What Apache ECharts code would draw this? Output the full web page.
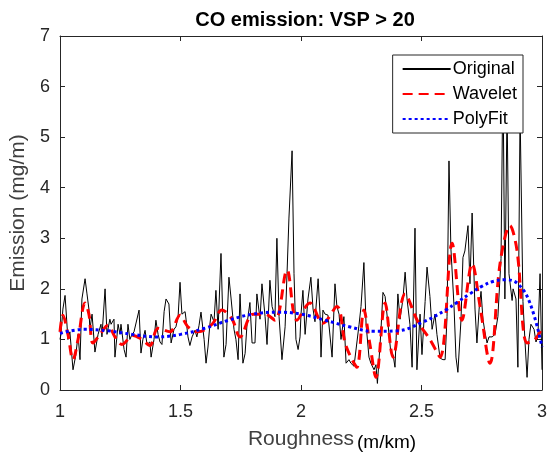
<!DOCTYPE html>
<html>
<head>
<meta charset="utf-8">
<script src="https://cdn.jsdelivr.net/npm/echarts@6/dist/echarts.min.js"></script>
<style>html,body{margin:0;padding:0;background:#fff;}#c{width:555px;height:459px;}</style>
</head>
<body>
<div id="c"></div>
<script>
var titleText = 'CO emission: VSP > 20';
var xName = 'Roughness';
var xUnit = '(m/km)';
var yName = 'Emission (mg/m)';
var xTicks = [1, 1.5, 2, 2.5, 3];
var yTicks = [0, 1, 2, 3, 4, 5, 6, 7];

var origX = [1.000,1.004,1.012,1.021,1.033,1.041,1.054,1.066,1.075,1.083,1.091,1.104,1.112,1.120,1.124,1.133,1.145,1.158,1.170,1.174,1.187,1.195,1.207,1.212,1.224,1.228,1.241,1.249,1.253,1.266,1.274,1.282,1.290,1.299,1.307,1.315,1.328,1.336,1.344,1.353,1.361,1.373,1.378,1.390,1.398,1.407,1.415,1.423,1.432,1.440,1.452,1.461,1.473,1.481,1.490,1.498,1.506,1.519,1.523,1.531,1.539,1.548,1.560,1.568,1.577,1.585,1.598,1.606,1.614,1.622,1.627,1.639,1.647,1.656,1.668,1.680,1.689,1.701,1.710,1.722,1.730,1.739,1.747,1.759,1.768,1.776,1.788,1.797,1.809,1.817,1.830,1.838,1.851,1.859,1.871,1.880,1.892,1.900,1.909,1.921,1.934,1.942,1.950,1.963,1.971,1.979,1.988,1.996,2.000,2.008,2.017,2.029,2.041,2.050,2.058,2.071,2.079,2.083,2.091,2.100,2.112,2.120,2.129,2.141,2.149,2.158,2.166,2.178,2.187,2.199,2.207,2.220,2.228,2.241,2.249,2.261,2.270,2.282,2.290,2.303,2.311,2.317,2.328,2.332,2.340,2.349,2.361,2.373,2.382,2.390,2.402,2.411,2.423,2.432,2.440,2.452,2.461,2.473,2.481,2.494,2.502,2.515,2.523,2.535,2.544,2.556,2.564,2.577,2.589,2.598,2.606,2.614,2.622,2.635,2.643,2.651,2.664,2.672,2.680,2.693,2.701,2.710,2.722,2.730,2.739,2.747,2.755,2.763,2.772,2.780,2.793,2.805,2.817,2.830,2.838,2.846,2.855,2.863,2.876,2.880,2.892,2.900,2.909,2.921,2.929,2.938,2.946,2.954,2.967,2.975,2.983,2.992,3.000];
var origY = [1.0,1.1,1.6,1.87,1.0,1.15,0.4,0.7,1.1,0.6,1.8,2.2,1.9,1.6,1.2,1.5,0.75,1.1,1.3,1.05,2.0,1.1,1.4,1.3,1.4,0.65,1.3,1.1,1.3,0.8,0.65,1.3,1.0,1.1,1.15,1.15,1.58,0.73,1.0,1.18,0.9,0.95,0.65,1.0,1.38,1.1,0.95,0.9,1.55,1.8,1.7,0.93,1.2,1.25,1.45,2.13,1.5,1.55,1.4,1.05,0.88,1.05,1.18,1.05,1.28,1.54,1.0,0.53,0.85,1.3,1.5,1.35,1.97,1.2,2.7,0.65,0.9,2.23,1.8,1.2,1.0,0.6,1.9,0.53,0.72,1.3,1.73,0.93,0.93,1.9,1.4,2.1,1.45,0.9,2.17,1.65,1.45,3.0,1.45,0.6,1.25,2.3,3.4,4.73,2.3,1.0,0.8,1.05,1.5,1.97,1.1,1.8,2.23,1.6,1.35,2.2,1.5,0.65,1.58,1.5,1.48,1.45,0.65,2.1,1.65,1.5,1.0,1.45,0.53,0.6,0.53,0.47,0.45,1.3,1.65,2.52,1.3,0.65,0.53,0.4,0.5,0.13,0.9,1.2,1.93,1.85,1.3,0.73,0.7,0.45,1.9,1.4,1.8,2.33,1.8,1.3,0.45,3.2,0.4,1.5,0.7,1.75,2.43,1.85,1.2,1.5,1.1,0.63,0.6,0.6,1.45,4.53,2.8,1.65,0.65,0.35,1.4,2.62,2.75,3.25,2.1,3.5,1.6,0.93,1.6,1.95,1.4,1.15,0.93,1.05,1.05,1.1,1.45,2.6,6.3,1.8,5.6,2.3,1.77,2.0,1.8,0.45,5.5,1.75,1.0,0.25,1.0,1.3,1.2,0.95,1.05,2.3,0.4];

var waveX = [1.000,1.012,1.033,1.054,1.075,1.104,1.120,1.137,1.166,1.199,1.228,1.257,1.303,1.340,1.373,1.407,1.456,1.498,1.531,1.573,1.631,1.672,1.714,1.747,1.801,1.851,1.892,1.942,1.983,2.037,2.091,2.149,2.183,2.212,2.232,2.261,2.286,2.311,2.349,2.382,2.432,2.485,2.535,2.577,2.627,2.668,2.710,2.743,2.784,2.826,2.867,2.896,2.938,2.971,3.000];
var waveY = [1.15,1.48,1.1,0.6,1.0,1.72,1.5,0.93,1.1,1.28,1.05,0.9,1.08,1.0,0.88,1.22,1.15,1.48,1.25,1.15,1.3,1.58,1.4,1.05,1.5,1.5,1.38,2.37,1.38,1.72,1.32,1.65,0.93,0.6,0.45,1.58,0.9,0.25,1.72,0.65,1.9,1.35,1.0,0.65,2.9,1.38,2.5,1.65,0.53,2.5,3.25,2.77,0.93,1.0,1.22];

var polyX = [1.0,1.1,1.2,1.3,1.4,1.5,1.6,1.7,1.8,1.9,2.0,2.1,2.2,2.3,2.4,2.5,2.6,2.65,2.7,2.75,2.8,2.85,2.9,2.95,3.0];
var polyY = [1.12,1.2,1.17,1.1,1.05,1.1,1.22,1.38,1.5,1.54,1.5,1.38,1.25,1.16,1.17,1.33,1.58,1.74,1.9,2.05,2.15,2.18,2.1,1.72,0.85];

function pairs(xs, ys) { return xs.map(function (x, i) { return [x, ys[i]]; }); }

var chart = echarts.init(document.getElementById('c'), null, {renderer: 'canvas'});
var axisCol = '#262626';
var font = 'Liberation Sans, Arial, Helvetica, sans-serif';
function frameAxis(pos, min, max, interval) {
  return {
    type: 'value', min: min, max: max, interval: interval, position: pos,
    axisLine: {show: true, onZero: false, lineStyle: {color: axisCol, width: 1}},
    axisTick: {show: true, inside: true, length: 5, lineStyle: {color: axisCol}},
    axisLabel: {show: false}, splitLine: {show: false}
  };
}
chart.setOption({
  animation: false,
  backgroundColor: '#ffffff',
  title: {
    text: titleText, left: 300, top: 5, textAlign: 'center',
    textStyle: {fontFamily: font, fontSize: 20, fontWeight: 'bold', color: '#000'}
  },
  legend: {
    orient: 'vertical', right: 32, top: 55,
    backgroundColor: '#fff', borderColor: axisCol, borderWidth: 1,
    padding: [5, 6, 5, 9], itemGap: 7, itemWidth: 48, itemHeight: 16,
    itemStyle: {opacity: 0},
    textStyle: {fontFamily: font, fontSize: 18, color: '#000', padding: [0, 0, 0, -3]},
    data: ['Original', 'Wavelet', 'PolyFit']
  },
  graphic: [{
    type: 'text', left: 357, top: 433,
    style: {text: xUnit, fontFamily: font, fontSize: 19, fill: '#000'}
  }],
  grid: {left: 60, right: 13, top: 36, bottom: 69, containLabel: false},
  xAxis: [{
    type: 'value', min: 1, max: 3, interval: 0.5,
    name: xName, nameLocation: 'middle', nameGap: 39,
    nameTextStyle: {fontFamily: font, fontSize: 21, color: '#404040'},
    axisLine: {show: true, onZero: false, lineStyle: {color: axisCol, width: 1}},
    axisTick: {show: true, inside: true, length: 5, lineStyle: {color: axisCol}},
    axisLabel: {fontFamily: font, fontSize: 18, color: axisCol, margin: 13,
      formatter: function (v) { return String(v); }},
    splitLine: {show: false}
  }, frameAxis('top', 1, 3, 0.5)],
  yAxis: [{
    type: 'value', min: 0, max: 7, interval: 1,
    name: yName, nameLocation: 'middle', nameGap: 25,
    nameTextStyle: {fontFamily: font, fontSize: 21, color: '#404040'},
    axisLine: {show: true, onZero: false, lineStyle: {color: axisCol, width: 1}},
    axisTick: {show: true, inside: true, length: 5, lineStyle: {color: axisCol}},
    axisLabel: {fontFamily: font, fontSize: 18, color: axisCol, margin: 10},
    splitLine: {show: false}
  }, frameAxis('right', 0, 7, 1)],
  series: [{
    name: 'Original', type: 'line', data: pairs(origX, origY), symbol: 'none',
    lineStyle: {color: '#000', width: 1}, itemStyle: {color: '#000'}
  }, {
    name: 'Wavelet', type: 'line', data: pairs(waveX, waveY), symbol: 'none', smooth: 0.35,
    lineStyle: {color: '#ff0000', width: 3, type: [10, 6]}, itemStyle: {color: '#ff0000'}
  }, {
    name: 'PolyFit', type: 'line', data: pairs(polyX, polyY), symbol: 'none', smooth: 0.4,
    lineStyle: {color: '#0000ff', width: 3, type: [3, 3]}, itemStyle: {color: '#0000ff'}
  }]
});
</script>
</body>
</html>
